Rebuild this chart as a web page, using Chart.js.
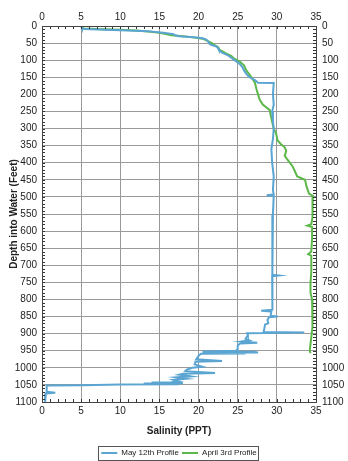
<!DOCTYPE html>
<html><head><meta charset="utf-8">
<script src="https://cdn.jsdelivr.net/npm/chart.js@4/dist/chart.umd.min.js"></script>
<style>html,body{margin:0;padding:0;background:#fff}#wrap{width:348px;height:461px}</style>
</head><body><div id="wrap"><canvas id="c" width="348" height="461"></canvas></div>
<script>
const seriesNames = ["May 12th Profile", "April 3rd Profile"];
const xTicks = [0,5,10,15,20,25,30,35];
const yTicks = [0,50,100,150,200,250,300,350,400,450,500,550,600,650,700,750,800,850,900,950,1000,1050,1100];

const mayDepth = [0,6,9,11,13,15,20,24,27,30,33,36,40,48,52,55,60,65,70,78,85,90,95,100,110,120,130,140,150,158,166,167,200,230,250,280,300,330,360,400,440,480,493,495,497,550,600,650,700,728,730,732,760,800,830,833,835,848,850,852,860,870,873,885,895,897,899,905,915,920,923,927,929,935,945,950,952,953,955,956,958,959,965,975,980,982,990,997,1000,1005,1010,1015,1017,1020,1025,1028,1032,1035,1040,1042,1043,1045,1046,1048,1049,1051,1052,1070,1073,1075,1100];
const maySal   = [5.0,5.1,5.4,8,11,13.5,15.5,16.8,17,17.5,19.5,20.5,21,21.3,21.4,21.6,22.3,22.5,22.6,23,23.7,24,24.3,24.6,25.2,25.6,25.8,26.1,26.5,27.2,27.6,29.6,29.5,29.6,29.4,29.5,29.6,29.5,29.3,29.4,29.6,29.5,29.6,28.7,29.6,29.5,29.4,29.5,29.4,29.4,30.2,29.4,29.5,29.4,29.4,28.0,29.3,29.2,30.1,29.0,28.8,28.9,28.5,28.4,28.3,33.5,26.2,26.3,26.0,26.5,25.5,27.5,25.3,25.0,25.0,24.8,20.5,27.0,27.6,20.5,26.0,20.3,20.0,19.7,23.0,19.6,19.5,20.5,19.2,18.5,18.3,22.1,18.0,17.5,19.0,17.2,18.4,16.8,17.5,16.5,14.0,18.0,13.0,17.5,10.0,5.3,0.6,0.6,1.7,0.5,0.4];

const aprDepth = [0,7,9,11,14,18,22,27,30,34,37,42,50,55,62,70,80,88,95,105,115,130,145,166,185,200,215,230,246,260,280,300,314,335,345,355,365,380,395,410,425,440,450,470,490,497,520,560,580,584,588,620,660,668,672,720,750,780,800,850,880,910,930,950,957];
const aprSal   = [5.0,5.3,7,10,12.5,14.5,15.5,16.5,18,19.5,20.5,21,21.7,22,22.5,22.7,23.5,24.2,24.5,25.3,25.8,26.1,26.6,27.2,27.4,27.6,27.8,28.2,29.1,29.2,29.4,29.6,29.9,30.1,30.5,31,31.2,31.0,31.5,32,32.3,32.6,33.6,33.8,34.1,34.6,34.6,34.5,34.4,33.9,34.5,34.5,34.4,34.0,34.4,34.4,34.3,34.3,34.5,34.6,34.5,34.4,34.3,34.2,34.3];

const toPts = (d, s) => d.map((v, i) => ({x: s[i], y: v}));
const FONT = "'Liberation Sans', Arial, sans-serif";
Chart.defaults.font.family = FONT;
Chart.defaults.font.size = 10;
Chart.defaults.color = '#222';

const minorTicks = {
  id: 'minorTicks',
  afterDatasetsDraw(chart) {
    const {ctx, chartArea: a, scales} = chart;
    ctx.save();
    ctx.strokeStyle = '#333'; ctx.lineWidth = 1;
    ctx.beginPath();
    for (let v = 0; v <= 35; v += 1) {
      const x = Math.round(scales.x.getPixelForValue(v)) + 0.5;
      ctx.moveTo(x, a.top); ctx.lineTo(x, a.top + 3);
      ctx.moveTo(x, a.bottom); ctx.lineTo(x, a.bottom - 3);
    }
    for (let v = 0; v <= 1100; v += 10) {
      const y = Math.round(scales.y.getPixelForValue(v)) + 0.5;
      ctx.moveTo(a.left, y); ctx.lineTo(a.left + 3, y);
      ctx.moveTo(a.right, y); ctx.lineTo(a.right - 3, y);
    }
    ctx.stroke();
    ctx.strokeStyle = '#444';
    ctx.strokeRect(a.left + 0.5, a.top + 0.5, a.right - a.left, a.bottom - a.top);
    ctx.restore();
  }
};
const legendBox = {
  id: 'legendBox',
  afterDraw(chart) {
    const boxes = chart.legend && chart.legend.legendHitBoxes;
    if (!boxes || !boxes.length) return;
    const l = boxes[0].left - 3, r = boxes[boxes.length-1].left + boxes[boxes.length-1].width + 2;
    const t = boxes[0].top - 3, b = boxes[0].top + boxes[0].height + 3;
    const ctx = chart.ctx;
    ctx.save(); ctx.strokeStyle = '#555'; ctx.lineWidth = 1;
    ctx.strokeRect(Math.round(l)+0.5, Math.round(t)+0.5, Math.round(r-l), Math.round(b-t));
    ctx.restore();
  }
};

const axisX = (pos, showTitle) => ({
  type: 'linear', position: pos, min: 0, max: 35,
  afterBuildTicks: s => { s.ticks = xTicks.map(v => ({value: v})); },
  ticks: {padding: 3, color: '#222', font: {size: 10}, callback: v => String(v)},
  grid: {color: '#9a9a9a', lineWidth: 1, tickLength: 0, drawTicks: false},
  border: {display: false},
  title: showTitle ? {display: true, text: 'Salinity (PPT)', font: {size: 10, weight: 'bold'}, padding: {top: 4, bottom: 9}} : {display: false},
  afterFit: s => { s.height = showTitle ? 44 : 26; }
});
const axisY = (pos, showTitle) => ({
  type: 'linear', position: pos, min: 0, max: 1100, reverse: true,
  afterBuildTicks: s => { s.ticks = yTicks.map(v => ({value: v})); },
  ticks: {padding: pos === 'left' ? 5 : 6, color: '#222', font: {size: 10}, callback: v => String(v)},
  grid: {color: '#9a9a9a', lineWidth: 1, tickLength: 0, drawTicks: false},
  border: {display: false},
  title: showTitle ? {display: true, text: 'Depth into Water (Feet)', font: {size: 10, weight: 'bold'}, padding: {top: 8, bottom: 2}} : {display: false},
  afterFit: s => { s.width = pos === 'left' ? 42 : 32; }
});

new Chart(document.getElementById('c'), {
  type: 'scatter',
  data: {
    datasets: [
      {label: seriesNames[0], data: toPts(mayDepth, maySal), showLine: true, borderColor: '#5aa5d2', backgroundColor: '#5aa5d2', borderWidth: 2, pointRadius: 0, tension: 0, xAxisID: 'x', yAxisID: 'y'},
      {label: seriesNames[1], data: toPts(aprDepth, aprSal), showLine: true, borderColor: '#5cb848', backgroundColor: '#5cb848', borderWidth: 2, pointRadius: 0, tension: 0, xAxisID: 'x', yAxisID: 'y'}
    ]
  },
  options: {
    responsive: false, animation: false, devicePixelRatio: 1,
    layout: {padding: {left: 0, right: 0, top: 0, bottom: -6}},
    plugins: {
      tooltip: {enabled: false},
      legend: {position: 'bottom', fullSize: false, labels: {usePointStyle: true, pointStyle: 'line', pointStyleWidth: 16, boxHeight: 8, padding: 3, font: {size: 8}, color: '#222'}}
    },
    scales: {
      x: axisX('bottom', true),
      x2: axisX('top', false),
      y: axisY('left', true),
      y2: axisY('right', false)
    }
  },
  plugins: [minorTicks, legendBox]
});
</script></body></html>
